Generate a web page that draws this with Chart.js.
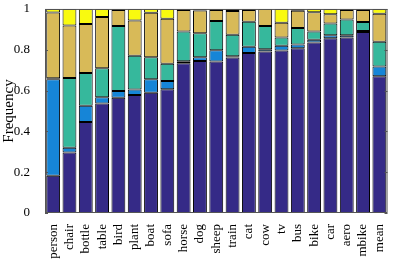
<!DOCTYPE html>
<html>
<head>
<meta charset="utf-8">
<script src="https://cdn.jsdelivr.net/npm/chart.js@4"></script>
<style>
  html, body { margin: 0; padding: 0; background: #fff; }
  #wrap { width: 398px; height: 266px; }
</style>
</head>
<body>
<div id="wrap"><canvas id="chart" width="398" height="266"></canvas></div>
<script>
// categories and stacked frequencies (bottom to top)
const categories = ['person', 'chair', 'bottle', 'table', 'bird', 'plant', 'boat', 'sofa', 'horse', 'dog',
    'sheep', 'train', 'cat', 'cow', 'tv', 'bus', 'bike', 'car', 'aero', 'mbike', 'mean'];

const navyVals   = [0.182, 0.296, 0.446, 0.537, 0.565, 0.578, 0.589, 0.607, 0.734, 0.745,
    0.742, 0.762, 0.784, 0.791, 0.796, 0.807, 0.836, 0.857, 0.860, 0.887, 0.670];
const blueVals   = [0.473, 0.024, 0.079, 0.030, 0.033, 0.027, 0.066, 0.040, 0.010, 0.018,
    0.055, 0.006, 0.031, 0.012, 0.024, 0.019, 0.013, 0.014, 0.011, 0.005, 0.048];
const tealVals   = [0.005, 0.342, 0.161, 0.142, 0.318, 0.166, 0.108, 0.084, 0.146, 0.118,
    0.144, 0.105, 0.122, 0.113, 0.040, 0.081, 0.040, 0.058, 0.077, 0.044, 0.121];
const tanVals    = [0.323, 0.257, 0.240, 0.251, 0.079, 0.172, 0.218, 0.221, 0.105, 0.111,
    0.054, 0.117, 0.058, 0.084, 0.072, 0.084, 0.095, 0.045, 0.047, 0.059, 0.137];
const yellowVals = [0.017, 0.081, 0.074, 0.040, 0.005, 0.057, 0.020, 0.048, 0.005, 0.008,
    0.005, 0.010, 0.005, 0.000, 0.068, 0.009, 0.016, 0.026, 0.005, 0.005, 0.024];

const yTicks = [0, 0.2, 0.4, 0.6, 0.8, 1];

const serif = '"Liberation Serif", "DejaVu Serif", serif';

function layer(data, color) {
    return {
        data: data,
        backgroundColor: color,
        borderColor: '#000',
        borderWidth: 1,
        borderSkipped: false,
        categoryPercentage: 0.85,
        barPercentage: 1.0
    };
}

// box around the plot with inward ticks on both sides, like the original
const boxPlugin = {
    id: 'box',
    afterDraw(chart) {
        const ctx = chart.ctx;
        const a = chart.chartArea;
        const y = chart.scales.y;
        ctx.save();
        ctx.strokeStyle = '#555';
        ctx.lineWidth = 1;
        ctx.strokeRect(a.left + 0.5, a.top + 0.5, a.right - a.left - 1, a.bottom - a.top - 1);
        yTicks.forEach(v => {
            const py = Math.round(y.getPixelForValue(v)) + 0.5;
            ctx.beginPath();
            ctx.moveTo(a.left, py); ctx.lineTo(a.left + 3, py);
            ctx.moveTo(a.right, py); ctx.lineTo(a.right - 3, py);
            ctx.stroke();
        });
        ctx.restore();
    }
};

new Chart(document.getElementById('chart'), {
    type: 'bar',
    data: {
        labels: categories,
        datasets: [
            layer(navyVals, '#352A87'),
            layer(blueVals, '#1685D7'),
            layer(tealVals, '#36B89C'),
            layer(tanVals, '#D8BA58'),
            layer(yellowVals, '#F9FA0F')
        ]
    },
    options: {
        responsive: false,
        animation: false,
        layout: { padding: { top: 5, right: 1, left: 0, bottom: 0 } },
        plugins: { legend: { display: false }, tooltip: { enabled: false } },
        scales: {
            x: {
                stacked: true,
                grid: { display: false },
                border: { display: false },
                afterFit: scale => { scale.height = 53; },
                ticks: {
                    color: '#000',
                    font: { family: serif, size: 13 },
                    maxRotation: 90,
                    minRotation: 90,
                    autoSkip: false,
                    padding: 3
                }
            },
            y: {
                stacked: true,
                min: 0,
                max: 1,
                afterBuildTicks: axis => { axis.ticks = yTicks.map(v => ({ value: v })); },
                afterFit: scale => { scale.width = 45; },
                grid: { display: false },
                border: { display: false },
                ticks: {
                    color: '#000',
                    font: { family: serif, size: 13, lineHeight: 0.3 },
                    padding: 7,
                    callback: v => String(Math.round(v * 10) / 10)
                },
                title: {
                    display: true,
                    text: 'Frequency',
                    color: '#000',
                    font: { family: serif, size: 15 },
                    padding: { top: 0, bottom: 0 }
                }
            }
        }
    },
    plugins: [boxPlugin]
});
</script>
</body>
</html>
